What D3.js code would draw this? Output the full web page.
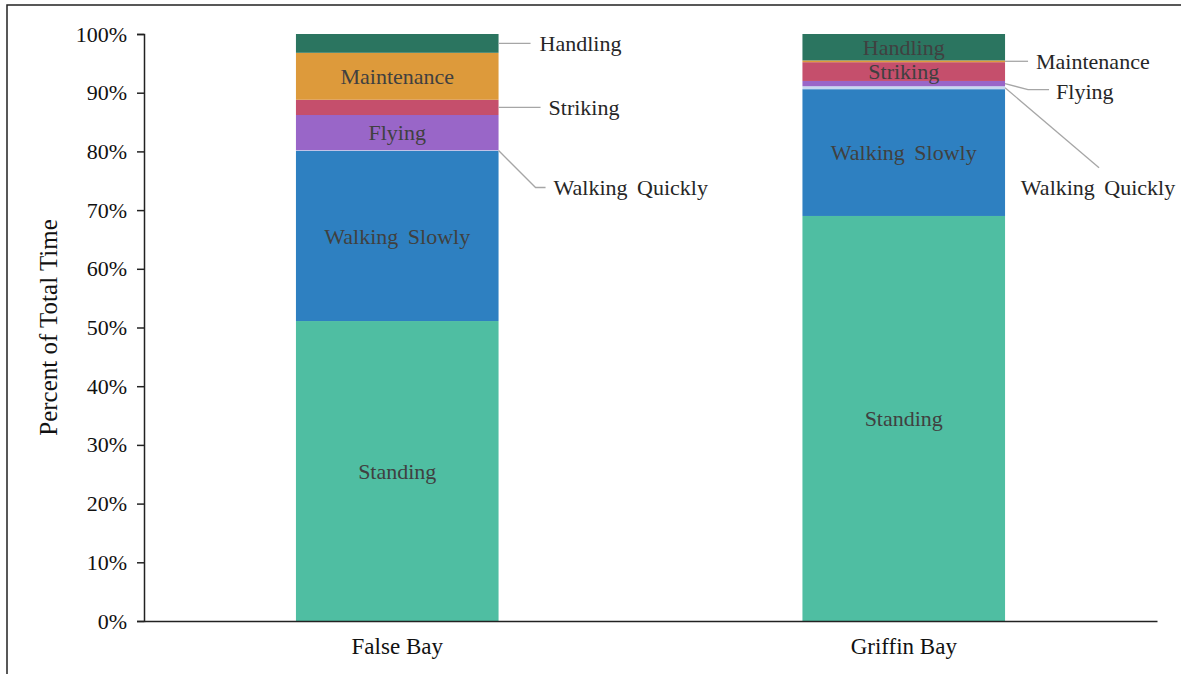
<!DOCTYPE html>
<html>
<head>
<meta charset="utf-8">
<script src="https://cdn.jsdelivr.net/npm/d3@7"></script>
<style>
  body { margin: 0; background: #fff; }
  svg { display: block; }
  text { font-family: "Liberation Serif", "Times New Roman", serif; }
</style>
</head>
<body>
<script>
const W = 1181, H = 674;

// data (percent of total time)
const sites = ["False Bay", "Griffin Bay"];
const behaviours = ["Standing", "Walking Slowly", "Walking Quickly", "Flying", "Striking", "Maintenance", "Handling"];
const falseBay  = [51.1, 29.0, 0.1, 6.0, 2.6, 8.0, 3.2];
const griffinBay = [69.0, 21.6, 0.5, 0.9, 3.2, 0.3, 4.5];
const yTicks = [0, 10, 20, 30, 40, 50, 60, 70, 80, 90, 100];

const colors = {
  "Standing": "#4fbea2",
  "Walking Slowly": "#2e80c1",
  "Walking Quickly": "#c6d8f0",
  "Flying": "#9966c8",
  "Striking": "#c54f6c",
  "Maintenance": "#dd9a3b",
  "Handling": "#2b7560"
};

// which labels sit outside the bar, with leader line geometry (offsets from bar edge)
const outside = {
  "False Bay": {
    "Handling":        { pts: [[0, 0], [32, 0]], tx: 41, ty: 0, anchor: "start" },
    "Striking":        { pts: [[0, 0], [42, 0]], tx: 50, ty: 0, anchor: "start" },
    "Walking Quickly": { pts: [[0, 0], [37, 37], [47, 37]], tx: 55, ty: 37, anchor: "start" }
  },
  "Griffin Bay": {
    "Maintenance":     { pts: [[0, 0], [23, 0]], tx: 31, ty: 0, anchor: "start" },
    "Flying":          { pts: [[0, 0], [23, 6], [44, 6]], tx: 51, ty: 8, anchor: "start" },
    "Walking Quickly": { pts: [[0, 0], [94, 80]], tx: 93, ty: 100, anchor: "middle" }
  }
};

const rows = sites.map((s, i) => {
  const vals = i === 0 ? falseBay : griffinBay;
  const r = { site: s };
  behaviours.forEach((b, j) => r[b] = vals[j]);
  return r;
});

const margin = { left: 144, right: 24, top: 34, bottom: 53 };

const x = d3.scaleBand()
  .domain(sites)
  .range([margin.left, W - margin.right])
  .paddingInner(0.6)
  .paddingOuter(0.3);

const y = d3.scaleLinear()
  .domain([0, 100])
  .range([H - margin.bottom, margin.top]);

const svg = d3.select("body").append("svg")
  .attr("width", W)
  .attr("height", H);

// outer frame
svg.append("rect")
  .attr("x", 7).attr("y", 5)
  .attr("width", W + 10).attr("height", H + 10)
  .attr("fill", "none")
  .attr("stroke", "#222")
  .attr("stroke-width", 1.5);

const series = d3.stack().keys(behaviours)(rows);

const layer = svg.append("g").selectAll("g")
  .data(series)
  .join("g")
  .attr("fill", d => colors[d.key]);

layer.selectAll("rect")
  .data(d => d.map(v => Object.assign(v, { key: d.key })))
  .join("rect")
  .attr("x", d => x(d.data.site))
  .attr("width", x.bandwidth())
  .attr("y", d => y(d[1]))
  .attr("height", d => y(d[0]) - y(d[1]));

// labels
const labels = svg.append("g");
series.forEach(s => {
  s.forEach(d => {
    const site = d.data.site;
    const mid = (y(d[0]) + y(d[1])) / 2;
    const out = outside[site][s.key];
    if (out) {
      const x0 = x(site) + x.bandwidth();
      labels.append("path")
        .attr("d", d3.line()(out.pts.map(p => [x0 + p[0], mid + p[1]])))
        .attr("fill", "none")
        .attr("stroke", "#a6a6a6")
        .attr("stroke-width", 1.3);
      labels.append("text")
        .attr("x", x0 + out.tx)
        .attr("y", mid + out.ty)
        .attr("dy", "0.35em")
        .attr("text-anchor", out.anchor)
        .attr("font-size", 22)
        .attr("fill", "#262626")
        .style("word-spacing", "4px")
        .text(s.key);
    } else {
      labels.append("text")
        .attr("x", x(site) + x.bandwidth() / 2)
        .attr("y", mid)
        .attr("dy", "0.35em")
        .attr("text-anchor", "middle")
        .attr("font-size", 22)
        .attr("fill", "#404040")
        .style("word-spacing", "4px")
        .text(s.key);
    }
  });
});

// y axis
const yAxis = svg.append("g")
  .attr("transform", `translate(${margin.left},0)`)
  .call(d3.axisLeft(y).tickValues(yTicks).tickFormat(d => d + "%").tickSizeOuter(0).tickSize(7).tickPadding(10));
yAxis.select(".domain").attr("stroke", "#222").attr("stroke-width", 1.5);
yAxis.selectAll(".tick line").attr("stroke", "#222").attr("stroke-width", 1.5);
yAxis.selectAll("text")
  .attr("font-size", 22)
  .attr("fill", "#111");

// x axis
const xAxis = svg.append("g")
  .attr("transform", `translate(0,${H - margin.bottom})`)
  .call(d3.axisBottom(x).tickSize(0).tickPadding(17));
xAxis.select(".domain").attr("stroke", "#222").attr("stroke-width", 1.5);
xAxis.selectAll("text")
  .attr("font-size", 23)
  .attr("fill", "#111");

// y title
svg.append("text")
  .attr("transform", `translate(57,${(y(0) + y(100)) / 2}) rotate(-90)`)
  .attr("text-anchor", "middle")
  .attr("font-size", 25)
  .attr("fill", "#111")
  .text("Percent of Total Time");
</script>
</body>
</html>
